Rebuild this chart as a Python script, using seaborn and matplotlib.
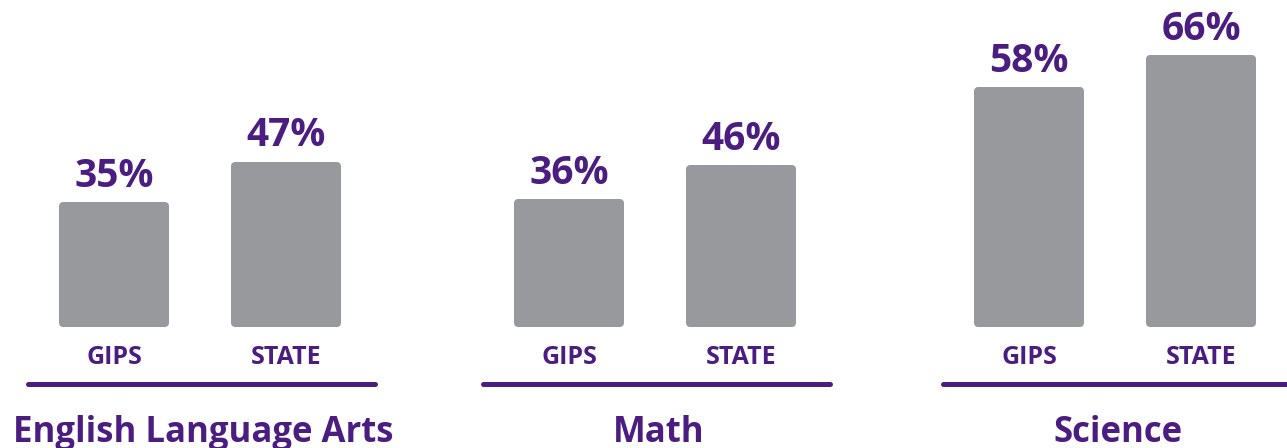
import matplotlib
matplotlib.use("Agg")
import matplotlib.pyplot as plt
import matplotlib.transforms as mtransforms
import seaborn as sns
import pandas as pd

# data
subjects = ["English Language Arts", "Math", "Science"]
groups = ["GIPS", "STATE"]
gips = [35, 36, 58]
state = [47, 46, 66]

PURPLE = "#4b1d80"
GRAY = "#98999d"

sns.set_theme(style="white")
plt.rcParams["font.family"] = ["Open Sans", "DejaVu Sans"]
plt.rcParams["font.weight"] = "bold"

W, H = 1287, 448
fig = plt.figure(figsize=(W / 100, H / 100), dpi=100)

# layout per panel (pixels): left edge of axes, and y-range top
lefts = [28, 483, 943]
ymaxes = [96.4, 96.6, 80.9]
ax_w, ax_bottom_px, ax_h = 344, 125, 323

for i, subj in enumerate(subjects):
    df = pd.DataFrame({"group": groups, "value": [gips[i], state[i]]})
    ax = fig.add_axes([lefts[i] / W, ax_bottom_px / H, ax_w / W, ax_h / H])
    sns.barplot(data=df, x="group", y="value", color=GRAY, width=0.593,
                saturation=1, ax=ax)
    for p in ax.patches:
        p.set_edgecolor(GRAY)
        p.set_linewidth(5.76)
        p.set_joinstyle("round")
        p.set_clip_on(False)
    ax.set_xlim(-0.5, 1.5)
    ax.set_ylim(0, ymaxes[i])
    ax.set_xlabel("")
    ax.set_ylabel("")
    ax.set_yticks([])
    ax.tick_params(axis="x", length=0, pad=16, labelsize=18, labelcolor=PURPLE)
    for lab in ax.get_xticklabels():
        lab.set_fontweight("bold")
    sns.despine(ax=ax, left=True, bottom=True)
    ax.patch.set_alpha(0)

    for j, v in enumerate(df["value"]):
        ax.annotate(f"{v}%", (j, v), xytext=(0, 13.7), textcoords="offset points",
                    ha="center", va="baseline", fontsize=28, fontweight="bold",
                    color=PURPLE)

    # underline and subject name
    shift = mtransforms.ScaledTranslation(0, -61 / 100, fig.dpi_scale_trans)
    ax.plot([-0.5, 1.52], [0, 0], color=PURPLE, lw=3.6, solid_capstyle="round",
            clip_on=False, transform=ax.get_xaxis_transform() + shift)
    ax.annotate(subj, (0.51, 0), xycoords="axes fraction", xytext=(0, -86),
                textcoords="offset points", ha="center", va="baseline",
                fontsize=25, fontweight="bold", color=PURPLE, annotation_clip=False)

fig.savefig("out.png", dpi=100)
